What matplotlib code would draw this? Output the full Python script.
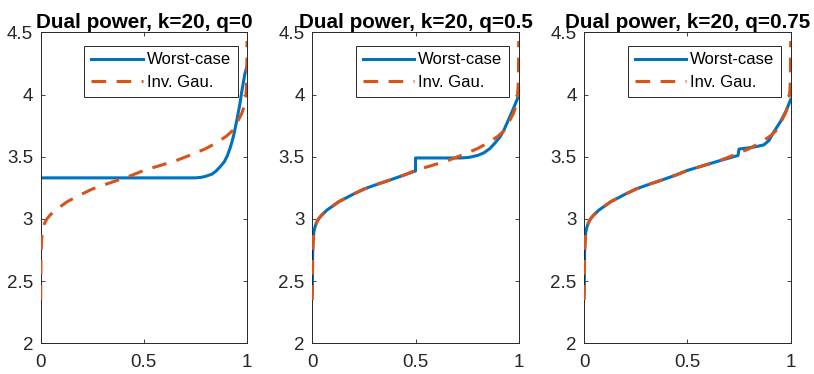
import matplotlib
matplotlib.use("Agg")
import matplotlib.pyplot as plt

plt.rcParams['font.family'] = ['Liberation Sans', 'DejaVu Sans']

titles = ["Dual power, k=20, q=0", "Dual power, k=20, q=0.5", "Dual power, k=20, q=0.75"]
labels = ["Worst-case", "Inv. Gau."]

# Inverse Gaussian curve (same in all panels)
ig_x = [0.0, 0.001, 0.002, 0.004, 0.007, 0.012, 0.02, 0.03, 0.045, 0.07, 0.1, 0.13,
        0.2, 0.25, 0.3, 0.38, 0.44, 0.5, 0.55, 0.65, 0.72, 0.8, 0.85, 0.9, 0.93,
        0.95, 0.975, 0.985, 0.993, 0.997, 0.999, 1.0]
ig_y = [2.35, 2.6, 2.72, 2.82, 2.88, 2.93, 2.97, 3.0, 3.03, 3.07, 3.105, 3.14,
        3.2, 3.24, 3.27, 3.315, 3.35, 3.39, 3.415, 3.465, 3.51, 3.565, 3.61, 3.665, 3.71,
        3.77, 3.85, 3.9, 3.97, 4.05, 4.2, 4.43]

# Worst-case, q = 0
wc0_x = [0.0, 0.75, 0.78, 0.8, 0.83, 0.85, 0.87, 0.89, 0.905, 0.92, 0.935, 0.95,
         0.965, 0.975, 0.99, 1.0]
wc0_y = [3.33, 3.33, 3.335, 3.343, 3.36, 3.385, 3.42, 3.46, 3.51, 3.58, 3.67, 3.79,
         3.92, 4.03, 4.17, 4.23]

# Worst-case, q = 0.5
wc1_x = [0.0, 0.001, 0.002, 0.004, 0.007, 0.012, 0.02, 0.03, 0.045, 0.07, 0.1, 0.13,
         0.2, 0.25, 0.3, 0.38, 0.44, 0.5, 0.5, 0.72, 0.76, 0.8, 0.83, 0.86, 0.885,
         0.91, 0.93, 0.95, 0.97, 0.985, 1.0]
wc1_y = [2.42, 2.65, 2.76, 2.84, 2.89, 2.93, 2.97, 3.0, 3.03, 3.07, 3.105, 3.14,
         3.2, 3.24, 3.27, 3.315, 3.35, 3.385, 3.49, 3.49, 3.495, 3.51, 3.53, 3.565, 3.61,
         3.66, 3.72, 3.795, 3.87, 3.93, 3.99]

# Worst-case, q = 0.75
wc2_x = [0.0, 0.001, 0.002, 0.004, 0.007, 0.012, 0.02, 0.03, 0.045, 0.07, 0.1, 0.13,
         0.2, 0.25, 0.3, 0.38, 0.44, 0.5, 0.55, 0.65, 0.745, 0.75, 0.79, 0.83, 0.87,
         0.895, 0.915, 0.95, 0.98, 1.0]
wc2_y = [2.42, 2.65, 2.76, 2.84, 2.89, 2.93, 2.97, 3.0, 3.03, 3.07, 3.105, 3.14,
         3.2, 3.24, 3.27, 3.315, 3.35, 3.39, 3.415, 3.465, 3.51, 3.562, 3.57, 3.58, 3.595,
         3.63, 3.69, 3.78, 3.875, 3.96]

wc_x = [wc0_x, wc1_x, wc2_x]
wc_y = [wc0_y, wc1_y, wc2_y]

xticks = [0, 0.5, 1]
xticklabels = ["0", "0.5", "1"]
yticks = [2, 2.5, 3, 3.5, 4, 4.5]
yticklabels = ["2", "2.5", "3", "3.5", "4", "4.5"]

BLUE = "#0072BD"
ORANGE = "#D95319"
AXC = "#262626"

fig = plt.figure(figsize=(8.14, 3.74), dpi=100)
lefts = [0.050, 0.3837, 0.7178]
for i in range(3):
    ax = fig.add_axes([lefts[i], 0.082, 0.2535, 0.8316])
    ax.plot(wc_x[i], wc_y[i], color=BLUE, lw=2.2, label=labels[0], zorder=2)
    ax.plot(ig_x, ig_y, color=ORANGE, lw=2.2, ls=(0, (4.8, 3.4)), label=labels[1], zorder=3)
    ax.set_xlim(0, 1)
    ax.set_ylim(2, 4.5)
    ax.set_xticks(xticks)
    ax.set_xticklabels(xticklabels)
    ax.set_yticks(yticks)
    ax.set_yticklabels(yticklabels)
    ax.tick_params(direction='in', top=True, right=True, length=3, width=0.6,
                   colors=AXC, labelsize=13.5)
    ax.tick_params(axis='x', pad=8)
    ax.tick_params(axis='y', pad=5.5)
    for s in ax.spines.values():
        s.set_color(AXC)
        s.set_linewidth(0.7)
    ax.set_title(titles[i], fontsize=14.9, fontweight='bold', pad=3)
    leg = ax.legend(loc='upper right', bbox_to_anchor=(0.954, 0.957), borderaxespad=0,
                    fontsize=12, fancybox=False, framealpha=1, edgecolor=AXC,
                    handlelength=3.1, handletextpad=0.25, labelspacing=0.45,
                    borderpad=0.4)
    leg.get_frame().set_linewidth(0.7)

fig.savefig("out.png", dpi=100)
